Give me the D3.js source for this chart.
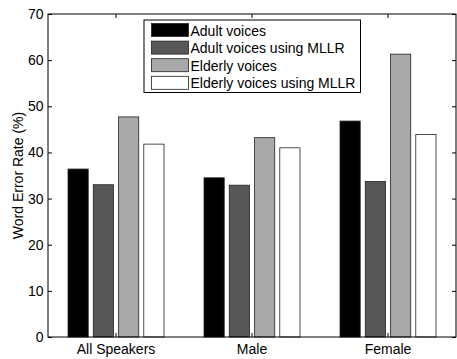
<!DOCTYPE html>
<html>
<head>
<meta charset="utf-8">
<script src="https://cdnjs.cloudflare.com/ajax/libs/d3/7.8.5/d3.min.js"></script>
<style>
body { margin: 0; background: #fff; }
text { font-family: "Liberation Sans", Arial, sans-serif; fill: #000; }
</style>
</head>
<body>
<svg></svg>
<script>
var categories = ["All Speakers", "Male", "Female"];
var seriesNames = ["Adult voices", "Adult voices using MLLR", "Elderly voices", "Elderly voices using MLLR"];
var adult = [36.4, 34.5, 46.8];
var adultMllr = [33.0, 32.9, 33.7];
var elderly = [47.7, 43.2, 61.3];
var elderlyMllr = [41.8, 41.0, 43.9];
var yTicks = [0, 10, 20, 30, 40, 50, 60, 70];
var colors = ["#000000", "#575757", "#a9a9a9", "#ffffff"];

var series = [adult, adultMllr, elderly, elderlyMllr];

var width = 457, height = 359;
var pLeft = 48, pRight = 456, pTop = 14, pBottom = 337;

var svg = d3.select("svg").attr("width", width).attr("height", height);

var x = d3.scaleBand().domain(categories).range([pLeft, pRight]).padding(0);
var inner = d3.scaleBand().domain(d3.range(series.length))
    .range([-48, 48]).paddingInner(0.2).paddingOuter(0);
var y = d3.scaleLinear().domain([0, 70]).range([pBottom, pTop]);

// bars
series.forEach(function(vals, s) {
    svg.append("g").selectAll("rect")
        .data(vals)
        .enter()
        .append("rect")
        .attr("x", (d, i) => x(categories[i]) + x.bandwidth() / 2 + inner(s))
        .attr("y", d => y(d))
        .attr("width", inner.bandwidth())
        .attr("height", d => y(0) - y(d))
        .attr("fill", colors[s])
        .attr("stroke", "#222")
        .attr("stroke-width", 0.8);
});

// axes box
svg.append("rect")
    .attr("x", pLeft).attr("y", pTop)
    .attr("width", pRight - pLeft).attr("height", pBottom - pTop)
    .attr("fill", "none").attr("stroke", "#000").attr("stroke-width", 1);

var yAxis = d3.axisLeft(y).tickValues(yTicks).tickSizeInner(-4).tickSizeOuter(0).tickPadding(4.5);
var gy = svg.append("g").attr("transform", "translate(" + pLeft + ",0)").call(yAxis);
gy.select(".domain").remove();
gy.selectAll("text").style("font-size", "14px").attr("font-family", null);

var gyr = svg.append("g").attr("transform", "translate(" + pRight + ",0)")
    .call(d3.axisRight(y).tickValues(yTicks).tickSizeInner(-4).tickSizeOuter(0).tickFormat(""));
gyr.select(".domain").remove();

var xAxis = d3.axisBottom(x).tickSizeInner(-4).tickSizeOuter(0).tickPadding(7);
var gx = svg.append("g").attr("transform", "translate(0," + pBottom + ")").call(xAxis);
gx.select(".domain").remove();
gx.selectAll("text").style("font-size", "14px").attr("font-family", null);

var gxt = svg.append("g").attr("transform", "translate(0," + pTop + ")")
    .call(d3.axisTop(x).tickSizeInner(-4).tickSizeOuter(0).tickFormat(""));
gxt.select(".domain").remove();

// y label
svg.append("text")
    .attr("transform", "translate(22.5," + ((pTop + pBottom) / 2) + ") rotate(-90)")
    .attr("text-anchor", "middle")
    .style("font-size", "14px")
    .text("Word Error Rate (%)");

// legend
var lg = svg.append("g").attr("transform", "translate(144,20)");
lg.append("rect").attr("width", 216.5).attr("height", 72.5)
    .attr("fill", "#fff").attr("stroke", "#000").attr("stroke-width", 1);
seriesNames.forEach(function(name, i) {
    lg.append("rect")
        .attr("x", 7.5).attr("y", 3.5 + i * 17.6)
        .attr("width", 37).attr("height", 13)
        .attr("fill", colors[i]).attr("stroke", "#222").attr("stroke-width", 0.8);
    lg.append("text")
        .attr("x", 46.5).attr("y", 15.5 + i * 17.6)
        .style("font-size", "14px")
        .text(name);
});
</script>
</body>
</html>
